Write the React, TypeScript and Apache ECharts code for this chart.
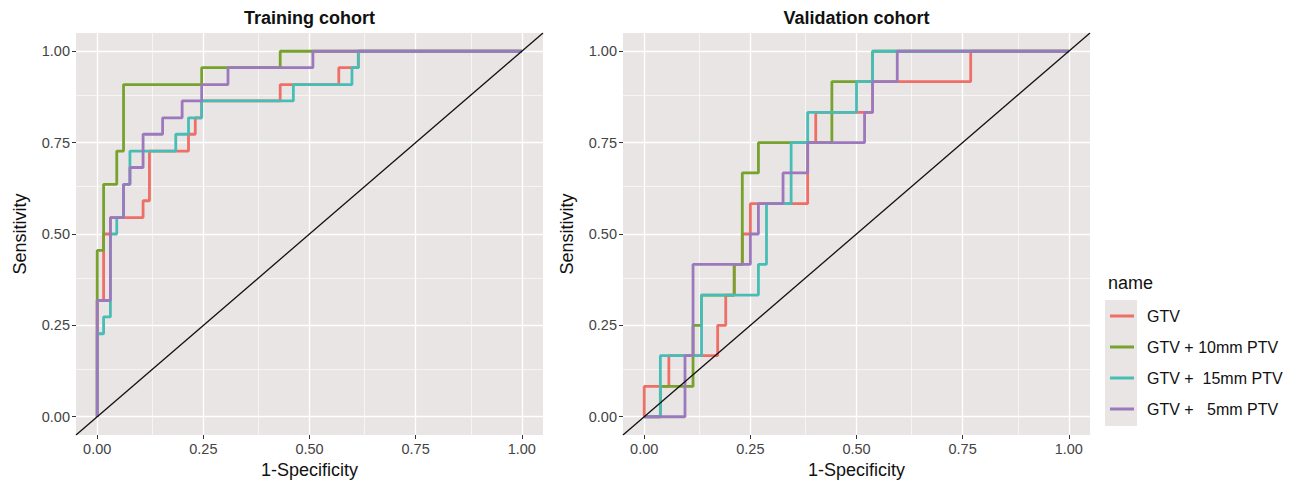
import React, { useEffect, useRef } from "react";
import * as echarts from "echarts";

const FONT = '"Liberation Sans", Arial, Helvetica, sans-serif';
const PANEL = "#E9E5E4";

const seriesNames = ["GTV", "GTV + 10mm PTV", "GTV +  15mm PTV", "GTV +   5mm PTV"];
const seriesColors = ["#EE6F67", "#77A22D", "#48BDB6", "#9B79BC"];
const tickValues = [0, 0.25, 0.5, 0.75, 1];
const minorValues = [0.125, 0.375, 0.625, 0.875];
const diagonal = [[-0.05, -0.05], [1.05, 1.05]];
const panelTitles = ["Training cohort", "Validation cohort"];

// Training cohort ROC staircases: [1-specificity, sensitivity]
const trainGTV = [[0,0],[0,0.318],[0.015,0.318],[0.015,0.5],[0.031,0.5],[0.031,0.545],[0.108,0.545],[0.108,0.591],[0.123,0.591],[0.123,0.727],[0.215,0.727],[0.215,0.773],[0.231,0.773],[0.231,0.818],[0.246,0.818],[0.246,0.864],[0.431,0.864],[0.431,0.909],[0.569,0.909],[0.569,0.955],[0.615,0.955],[0.615,1],[1,1]];
const train10 = [[0,0],[0,0.455],[0.015,0.455],[0.015,0.636],[0.046,0.636],[0.046,0.727],[0.062,0.727],[0.062,0.909],[0.246,0.909],[0.246,0.955],[0.431,0.955],[0.431,1],[1,1]];
const train15 = [[0,0],[0,0.227],[0.015,0.227],[0.015,0.273],[0.031,0.273],[0.031,0.5],[0.046,0.5],[0.046,0.545],[0.062,0.545],[0.062,0.636],[0.077,0.636],[0.077,0.727],[0.185,0.727],[0.185,0.773],[0.215,0.773],[0.215,0.818],[0.246,0.818],[0.246,0.864],[0.462,0.864],[0.462,0.909],[0.6,0.909],[0.6,0.955],[0.615,0.955],[0.615,1],[1,1]];
const train5 = [[0,0],[0,0.318],[0.031,0.318],[0.031,0.545],[0.062,0.545],[0.062,0.636],[0.077,0.636],[0.077,0.682],[0.108,0.682],[0.108,0.773],[0.154,0.773],[0.154,0.818],[0.2,0.818],[0.2,0.864],[0.246,0.864],[0.246,0.909],[0.308,0.909],[0.308,0.955],[0.508,0.955],[0.508,1],[1,1]];

// Validation cohort ROC staircases
const valGTV = [[0,0],[0,0.083],[0.058,0.083],[0.058,0.167],[0.173,0.167],[0.173,0.25],[0.192,0.25],[0.192,0.333],[0.212,0.333],[0.212,0.417],[0.231,0.417],[0.231,0.5],[0.25,0.5],[0.25,0.583],[0.385,0.583],[0.385,0.75],[0.404,0.75],[0.404,0.833],[0.538,0.833],[0.538,0.917],[0.769,0.917],[0.769,1],[1,1]];
const val10 = [[0,0],[0.038,0],[0.038,0.083],[0.115,0.083],[0.115,0.25],[0.135,0.25],[0.135,0.333],[0.212,0.333],[0.212,0.417],[0.231,0.417],[0.231,0.667],[0.269,0.667],[0.269,0.75],[0.442,0.75],[0.442,0.917],[0.538,0.917],[0.538,1],[1,1]];
const val15 = [[0,0],[0.038,0],[0.038,0.167],[0.135,0.167],[0.135,0.333],[0.269,0.333],[0.269,0.417],[0.288,0.417],[0.288,0.583],[0.346,0.583],[0.346,0.75],[0.385,0.75],[0.385,0.833],[0.5,0.833],[0.5,0.917],[0.538,0.917],[0.538,1],[1,1]];
const val5 = [[0,0],[0.096,0],[0.096,0.167],[0.115,0.167],[0.115,0.417],[0.25,0.417],[0.25,0.5],[0.269,0.5],[0.269,0.583],[0.327,0.583],[0.327,0.667],[0.385,0.667],[0.385,0.75],[0.519,0.75],[0.519,0.833],[0.538,0.833],[0.538,0.917],[0.596,0.917],[0.596,1],[1,1]];

const panelData = [
  [trainGTV, train10, train15, train5],
  [valGTV, val10, val15, val5],
];

const GRID_LEFTS = [76, 623];
const GRID_TOP = 33;
const GRID_W = 467;
const GRID_H = 402;

function buildOption(): any {
  const grid = GRID_LEFTS.map((left) => ({
    left,
    top: GRID_TOP,
    width: GRID_W,
    height: GRID_H,
    show: true,
    backgroundColor: PANEL,
    borderWidth: 0,
    z: 0,
  }));

  const axisCommon = (i: number, name: string, gap: number) => ({
    type: "value",
    gridIndex: i,
    min: -0.05,
    max: 1.05,
    name,
    nameLocation: "middle",
    nameGap: gap,
    nameTextStyle: { fontSize: 18, color: "#111", fontFamily: FONT },
    axisLine: { show: false, onZero: false },
    axisTick: {
      show: true,
      length: 4,
      lineStyle: { color: "#333", width: 1 },
      customValues: tickValues,
    },
    axisLabel: {
      customValues: tickValues,
      formatter: (v: number) => v.toFixed(2),
      fontSize: 14.5,
      color: "#444",
      margin: 6,
      fontFamily: FONT,
    },
    splitLine: { show: false },
  });

  const xAxis = GRID_LEFTS.map((_, i) => axisCommon(i, "1-Specificity", 24));
  const yAxis = GRID_LEFTS.map((_, i) => axisCommon(i, "Sensitivity", 47));

  const series: any[] = [];
  GRID_LEFTS.forEach((_, i) => {
    const mlData: any[] = [];
    minorValues.forEach((v) => {
      mlData.push({ xAxis: v, lineStyle: { width: 0.6 } });
      mlData.push({ yAxis: v, lineStyle: { width: 0.6 } });
    });
    tickValues.forEach((v) => {
      mlData.push({ xAxis: v, lineStyle: { width: 1.3 } });
      mlData.push({ yAxis: v, lineStyle: { width: 1.3 } });
    });
    series.push({
      type: "line",
      name: "grid" + i,
      xAxisIndex: i,
      yAxisIndex: i,
      data: [[0, 0]],
      showSymbol: false,
      silent: true,
      z: 1,
      lineStyle: { opacity: 0 },
      markLine: {
        z: 1,
        silent: true,
        symbol: ["none", "none"],
        label: { show: false },
        emphasis: { disabled: true },
        lineStyle: { color: "#FFFFFF", type: "solid" },
        data: mlData,
      },
    });
    panelData[i].forEach((d, k) => {
      series.push({
        type: "line",
        name: seriesNames[k],
        xAxisIndex: i,
        yAxisIndex: i,
        data: d,
        showSymbol: false,
        silent: true,
        z: 10 + k,
        lineStyle: { color: seriesColors[k], width: 2.8 },
        itemStyle: { color: seriesColors[k] },
      });
    });
    series.push({
      type: "line",
      name: "reference" + i,
      xAxisIndex: i,
      yAxisIndex: i,
      data: diagonal,
      showSymbol: false,
      silent: true,
      z: 20,
      lineStyle: { color: "#111", width: 1.3 },
    });
  });

  const graphic: any[] = [];
  panelTitles.forEach((t, i) => {
    graphic.push({
      type: "text",
      x: GRID_LEFTS[i] + GRID_W / 2,
      y: 18,
      style: {
        text: t,
        fontSize: 18,
        fontWeight: "bold",
        fontFamily: FONT,
        fill: "#111",
        align: "center",
        verticalAlign: "middle",
      },
    });
  });
  graphic.push({
    type: "text",
    x: 1108,
    y: 283,
    style: { text: "name", fontSize: 18, fontFamily: FONT, fill: "#111", align: "left", verticalAlign: "middle" },
  });
  graphic.push({
    type: "rect",
    shape: { x: 1105, y: 300, width: 32, height: 126 },
    style: { fill: PANEL },
  });
  const rowY = [316, 347, 378, 409];
  seriesNames.forEach((n, k) => {
    graphic.push({
      type: "line",
      shape: { x1: 1110, y1: rowY[k], x2: 1134, y2: rowY[k] },
      style: { stroke: seriesColors[k], lineWidth: 3 },
    });
    graphic.push({
      type: "text",
      x: 1147,
      y: rowY[k],
      style: { text: n, fontSize: 16, fontFamily: FONT, fill: "#111", align: "left", verticalAlign: "middle" },
    });
  });

  return {
    animation: false,
    backgroundColor: "#FFFFFF",
    textStyle: { fontFamily: FONT },
    grid,
    xAxis,
    yAxis,
    series,
    graphic,
  };
}

export default function App() {
  const ref = useRef<HTMLDivElement>(null);
  useEffect(() => {
    if (!ref.current) return;
    const chart = echarts.init(ref.current, undefined, { renderer: "svg" });
    chart.setOption(buildOption());
    return () => chart.dispose();
  }, []);
  return (
    <div
      ref={ref}
      style={{ position: "fixed", left: 0, top: 0, width: 1293, height: 484, background: "#fff" }}
    />
  );
}
